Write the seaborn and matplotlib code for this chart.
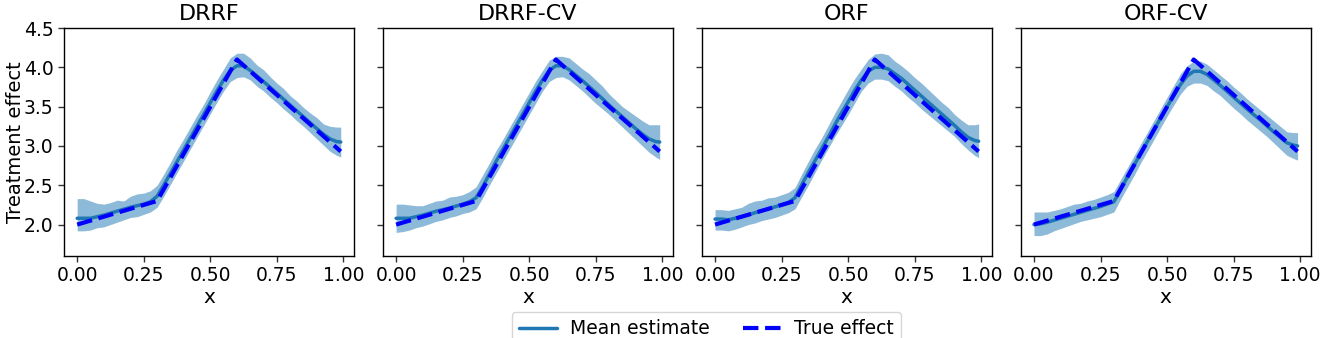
import numpy as np
import pandas as pd
import matplotlib
matplotlib.use("Agg")
import matplotlib.pyplot as plt
import seaborn as sns

# values
methods = ["DRRF", "DRRF-CV", "ORF", "ORF-CV"]
x_grid = [0.0, 0.025, 0.05, 0.075, 0.1, 0.125, 0.15, 0.175, 0.2, 0.225, 0.25,
          0.275, 0.3, 0.325, 0.35, 0.375, 0.4, 0.425, 0.45, 0.475, 0.5,
          0.525, 0.55, 0.575, 0.6, 0.625, 0.65, 0.675, 0.7, 0.725, 0.75,
          0.775, 0.8, 0.825, 0.85, 0.875, 0.9, 0.925, 0.95, 0.975, 0.99]
true_x = [0.0, 0.3, 0.6, 0.99]
true_y = [2.0, 2.3, 4.1, 2.93]

drrf_mean = [2.08, 2.08, 2.08, 2.10, 2.12, 2.145, 2.17, 2.195, 2.22, 2.24, 2.26,
             2.29, 2.36, 2.50, 2.65, 2.80, 2.95, 3.10, 3.25, 3.40, 3.55,
             3.70, 3.84, 3.96, 4.02, 4.02, 3.96, 3.89, 3.82, 3.745, 3.67,
             3.595, 3.52, 3.445, 3.37, 3.295, 3.22, 3.15, 3.09, 3.055, 3.05]
drrf_hi = [2.33, 2.33, 2.30, 2.27, 2.26, 2.28, 2.31, 2.30, 2.36, 2.39, 2.40,
           2.43, 2.50, 2.64, 2.79, 2.95, 3.09, 3.24, 3.39, 3.53, 3.69,
           3.84, 3.98, 4.12, 4.18, 4.18, 4.12, 4.03, 3.97, 3.88, 3.80,
           3.73, 3.64, 3.57, 3.49, 3.42, 3.36, 3.28, 3.25, 3.24, 3.24]
drrf_lo = [1.92, 1.92, 1.93, 1.96, 1.97, 2.00, 2.03, 2.06, 2.09, 2.10, 2.13,
           2.16, 2.22, 2.36, 2.51, 2.66, 2.81, 2.96, 3.11, 3.26, 3.41,
           3.56, 3.70, 3.82, 3.87, 3.88, 3.84, 3.76, 3.70, 3.62, 3.55,
           3.47, 3.40, 3.32, 3.25, 3.17, 3.09, 3.01, 2.93, 2.88, 2.86]

drrfcv_mean = [2.08, 2.08, 2.08, 2.10, 2.12, 2.145, 2.17, 2.19, 2.21, 2.235, 2.26,
               2.29, 2.34, 2.48, 2.64, 2.80, 2.95, 3.10, 3.25, 3.40, 3.55,
               3.70, 3.84, 3.96, 4.02, 4.02, 3.97, 3.90, 3.83, 3.755, 3.68,
               3.60, 3.52, 3.445, 3.37, 3.295, 3.22, 3.15, 3.09, 3.055, 3.05]
drrfcv_hi = [2.26, 2.26, 2.25, 2.24, 2.24, 2.27, 2.30, 2.31, 2.35, 2.36, 2.38,
             2.42, 2.48, 2.63, 2.78, 2.94, 3.08, 3.23, 3.38, 3.53, 3.68,
             3.83, 3.96, 4.09, 4.14, 4.14, 4.12, 4.05, 3.98, 3.92, 3.84,
             3.76, 3.66, 3.58, 3.50, 3.44, 3.38, 3.32, 3.27, 3.27, 3.27]
drrfcv_lo = [1.90, 1.91, 1.93, 1.96, 1.98, 2.01, 2.04, 2.06, 2.09, 2.11, 2.14,
             2.16, 2.20, 2.34, 2.50, 2.65, 2.80, 2.95, 3.10, 3.25, 3.40,
             3.55, 3.70, 3.82, 3.87, 3.88, 3.84, 3.77, 3.70, 3.62, 3.54,
             3.47, 3.40, 3.32, 3.24, 3.16, 3.08, 3.00, 2.92, 2.86, 2.83]

orf_mean = [2.07, 2.07, 2.06, 2.08, 2.10, 2.125, 2.15, 2.175, 2.20, 2.225, 2.25,
            2.28, 2.34, 2.50, 2.66, 2.81, 2.96, 3.11, 3.27, 3.42, 3.56,
            3.71, 3.84, 3.95, 4.00, 4.00, 3.98, 3.92, 3.86, 3.785, 3.71,
            3.635, 3.56, 3.485, 3.41, 3.335, 3.26, 3.18, 3.11, 3.07, 3.06]
orf_hi = [2.19, 2.19, 2.18, 2.20, 2.22, 2.27, 2.30, 2.31, 2.34, 2.35, 2.38,
          2.41, 2.47, 2.64, 2.80, 2.96, 3.10, 3.26, 3.42, 3.57, 3.72,
          3.86, 3.98, 4.10, 4.17, 4.18, 4.16, 4.08, 4.02, 3.95, 3.87,
          3.80, 3.72, 3.64, 3.56, 3.49, 3.40, 3.33, 3.27, 3.27, 3.28]
orf_lo = [1.93, 1.93, 1.92, 1.94, 1.97, 2.00, 2.02, 2.05, 2.07, 2.09, 2.12,
          2.15, 2.20, 2.35, 2.50, 2.66, 2.82, 2.97, 3.12, 3.26, 3.40,
          3.55, 3.70, 3.80, 3.85, 3.85, 3.83, 3.76, 3.70, 3.62, 3.55,
          3.47, 3.40, 3.33, 3.26, 3.19, 3.12, 3.03, 2.95, 2.88, 2.85]

orfcv_mean = [2.00, 2.01, 2.03, 2.055, 2.08, 2.105, 2.13, 2.155, 2.18, 2.205, 2.23,
              2.26, 2.29, 2.44, 2.60, 2.75, 2.90, 3.05, 3.20, 3.35, 3.50,
              3.64, 3.78, 3.89, 3.95, 3.95, 3.91, 3.84, 3.77, 3.695, 3.62,
              3.545, 3.47, 3.40, 3.33, 3.255, 3.18, 3.11, 3.04, 3.01, 3.00]
orfcv_hi = [2.16, 2.16, 2.16, 2.18, 2.20, 2.23, 2.26, 2.27, 2.30, 2.32, 2.35,
            2.38, 2.42, 2.57, 2.72, 2.87, 3.02, 3.17, 3.32, 3.47, 3.62,
            3.77, 3.92, 4.02, 4.08, 4.08, 4.04, 3.97, 3.90, 3.83, 3.75,
            3.68, 3.60, 3.53, 3.46, 3.39, 3.32, 3.25, 3.18, 3.17, 3.17]
orfcv_lo = [1.86, 1.86, 1.88, 1.92, 1.95, 1.98, 2.01, 2.04, 2.06, 2.08, 2.10,
            2.13, 2.16, 2.32, 2.47, 2.62, 2.78, 2.93, 3.08, 3.23, 3.38,
            3.52, 3.66, 3.76, 3.80, 3.80, 3.77, 3.70, 3.64, 3.56, 3.48,
            3.41, 3.33, 3.26, 3.19, 3.12, 3.04, 2.96, 2.88, 2.84, 2.82]

means = [drrf_mean, drrfcv_mean, orf_mean, orfcv_mean]
highs = [drrf_hi, drrfcv_hi, orf_hi, orfcv_hi]
lows = [drrf_lo, drrfcv_lo, orf_lo, orfcv_lo]

sns.set_style("white", {"axes.edgecolor": "black", "xtick.bottom": True,
                        "ytick.left": True, "text.color": "black",
                        "axes.labelcolor": "black", "xtick.color": "black",
                        "ytick.color": "black"})
plt.rcParams["font.family"] = ["DejaVu Sans"]

fig, axes = plt.subplots(1, 4, figsize=(13.28, 3.38), dpi=100, sharey=True)
fig.subplots_adjust(left=0.0482, right=0.987, top=0.917, bottom=0.2426, wspace=0.1)

for ax, name, m, hi, lo in zip(axes, methods, means, highs, lows):
    ax.fill_between(x_grid, lo, hi, color="#1f77b4", alpha=0.5, linewidth=0)
    sns.lineplot(x=x_grid, y=m, ax=ax, color="#1f77b4", linewidth=2.5,
                 label="Mean estimate", legend=False)
    sns.lineplot(x=true_x, y=true_y, ax=ax, color="blue", linewidth=3,
                 linestyle="--", label="True effect", legend=False)
    ax.set_title(name, fontsize=16)
    ax.set_xlabel("x", fontsize=14.5, labelpad=2)
    ax.set_xticks([0.0, 0.25, 0.5, 0.75, 1.0])
    ax.set_xticklabels(["0.00", "0.25", "0.50", "0.75", "1.00"])
    ax.tick_params(labelsize=13.5, length=4, width=1, color="#333333",
                   labelcolor="black")
    for s in ax.spines.values():
        s.set_linewidth(1)

axes[0].set_ylim(1.6, 4.5)
axes[0].set_yticks([2.0, 2.5, 3.0, 3.5, 4.0, 4.5])
axes[0].set_yticklabels(["2.0", "2.5", "3.0", "3.5", "4.0", "4.5"])
axes[0].set_ylabel("Treatment effect", fontsize=14)
axes[0].yaxis.set_label_coords(-0.135, 0.5)

handles, labels = axes[0].get_legend_handles_labels()
fig.legend(handles, labels, loc="upper center", bbox_to_anchor=(0.532, 0.077),
           borderaxespad=0, ncol=2, fontsize=13.5, frameon=True,
           handlelength=2.0, handletextpad=0.7, columnspacing=1.8)

plt.savefig("out.png", dpi=100)
